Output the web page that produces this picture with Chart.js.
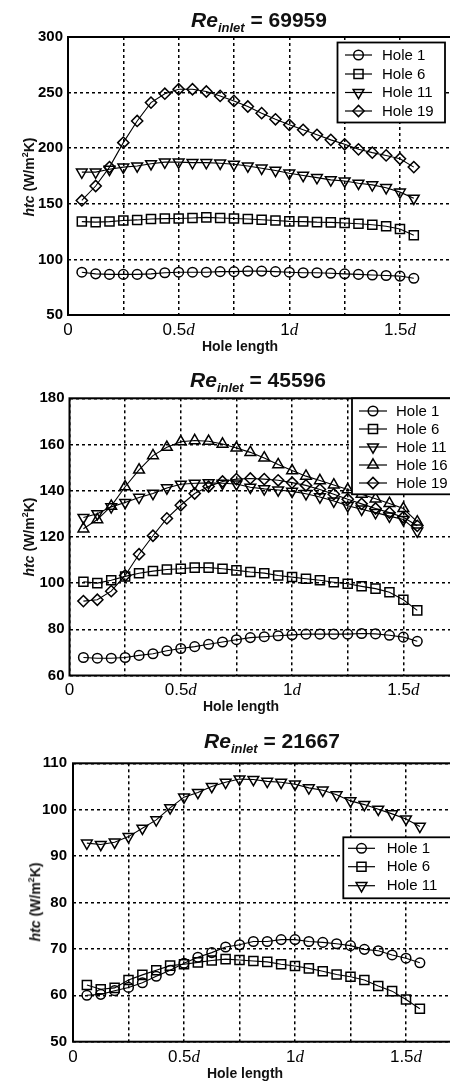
<!DOCTYPE html>
<html><head><meta charset="utf-8">
<script src="https://cdn.jsdelivr.net/npm/chart.js@4.4.1/dist/chart.umd.min.js"></script>
<style>
html,body{margin:0;padding:0;background:#fff;overflow:hidden;}
body{width:450px;height:1084px;position:relative;font-family:"Liberation Sans",Arial,sans-serif;color:#111;}
canvas{position:absolute;left:0;}
.ttl{position:absolute;width:240px;text-align:center;font-weight:bold;font-size:21px;line-height:21px;white-space:nowrap;z-index:2;}
.ttl .sub{position:relative;top:5px;font-size:13px;font-style:italic;}
.yl{position:absolute;transform:translate(-50%,-50%) rotate(-90deg);font-weight:bold;font-size:14px;line-height:14px;white-space:nowrap;z-index:2;}
.xl{position:absolute;transform:translate(-50%,-50%);font-weight:bold;font-size:14px;line-height:14px;white-space:nowrap;z-index:2;}
</style></head>
<body>
<canvas id="c1" width="470" height="360" style="top:0;width:470px;height:360px"></canvas>
<canvas id="c2" width="470" height="360" style="top:360px;width:470px;height:360px"></canvas>
<canvas id="c3" width="470" height="364" style="top:720px;width:470px;height:364px"></canvas>

<div class="ttl" style="left:139px;top:9px"><i>Re</i><span class="sub">inlet</span> = 69959</div>
<div class="ttl" style="left:138px;top:369px"><i>Re</i><span class="sub">inlet</span> = 45596</div>
<div class="ttl" style="left:152px;top:730px"><i>Re</i><span class="sub">inlet</span> = 21667</div>

<div class="yl" style="left:27px;top:177px"><i>htc</i> (W/m<sup style="font-size:9px">2</sup>K)</div>
<div class="yl" style="left:27px;top:537px"><i>htc</i> (W/m<sup style="font-size:9px">2</sup>K)</div>
<div class="yl" style="left:33px;top:902px"><i>htc</i> (W/m<sup style="font-size:9px">2</sup>K)</div>

<div class="xl" style="left:240px;top:346px">Hole length</div>
<div class="xl" style="left:241px;top:706px">Hole length</div>
<div class="xl" style="left:245px;top:1073px">Hole length</div>

<script>
// ---- data ----
const holeLength = [0.0625,0.125,0.1875,0.25,0.3125,0.375,0.4375,0.5,0.5625,0.625,0.6875,0.75,0.8125,0.875,0.9375,1.0,1.0625,1.125,1.1875,1.25,1.3125,1.375,1.4375,1.5,1.5625];

const xTickValues = [0, 0.5, 1, 1.5];
const xTickLabels = ['0', '0.5d', '1d', '1.5d'];

// Re_inlet = 69959
const re69959_hole1  = [88.5,87,86.5,86.5,86.5,87,88,88.5,88.5,88.5,89,89,89.5,89.5,89,88.5,88,88,87.5,87,86.5,86,85.5,85,83];
const re69959_hole6  = [134,133.5,134,135,135.5,136.3,136.7,136.8,137.2,137.8,137.2,136.8,136.3,135.7,135,134.2,134,133.5,133.3,132.7,132,131.2,129.8,127.4,121.7];
const re69959_hole11 = [178.5,178.5,181,183,184,186,187.5,187.5,187,187,186.5,185.5,184,182,180,177.5,175.5,173.5,171.5,170.5,168.5,167,164.5,160.5,155];
const re69959_hole19 = [153,166,183,205,224.5,241,249,253,253,251,247,242.5,237.5,231.5,226,221,216.5,212,207.5,203.5,199,196,193.5,190.5,183];

// Re_inlet = 45596
const re45596_hole1  = [67.8,67.5,67.5,67.8,68.7,69.4,70.7,71.7,72.5,73.5,74.5,75.5,76.4,76.8,77.2,77.6,77.9,77.9,77.9,77.9,78.2,78,77.4,76.6,74.8];
const re45596_hole6  = [100.6,100,101.2,102.9,104.3,105.2,105.9,106.2,106.7,106.7,106.2,105.5,104.8,104.3,103.3,102.6,101.9,101.2,100.4,99.7,98.6,97.6,96,92.8,88.2];
const re45596_hole11 = [128.4,130,133,134.9,137.1,138.8,141.2,142.8,143.2,143.4,143.2,142.9,141.5,140.8,140.3,139.7,138.7,137.3,135.5,133.5,132,130.5,129,127.5,122.5];
const re45596_hole16 = [123.5,127.5,133.3,141.7,149,155.2,158.8,161.2,161.7,161.4,160.2,158.5,156.6,154.2,151.3,148.7,146.3,144.4,142.5,140.5,138.5,136.5,134.5,132.3,126.5];
const re45596_hole19 = [92.2,92.8,96.5,103.3,112.5,120.5,128,133.7,138.8,141.8,144,145,145.3,145,144.5,143.5,142.3,140.5,138.5,136.3,134.3,132.3,130.5,128.5,124.8];

// Re_inlet = 21667
const re21667_hole1  = [60,60.2,61,61.7,62.7,64.1,65.4,66.9,68.2,69.2,70.4,70.9,71.6,71.6,72,72,71.6,71.4,71.1,70.7,69.9,69.6,68.7,68,67];
const re21667_hole6  = [62.2,61.3,61.6,63.3,64.4,65.4,66.4,66.7,67.1,67.5,67.8,67.6,67.4,67.2,66.7,66.3,65.8,65.2,64.5,64,63.3,62,60.9,59.1,57.1];
const re21667_hole11 = [92.8,92.5,93,94.2,96,97.8,100.4,102.7,103.7,105,105.9,106.6,106.5,106.1,105.9,105.5,104.7,104.2,103.2,101.9,101.1,100.1,99.1,98,96.4];

// ---- marker styles ----
const MK = {
  'Hole 1':  {style:'circle',   r:4.8, rot:0},
  'Hole 6':  {style:'rect',     r:6.4, rot:0},
  'Hole 11': {style:'triangle', r:6.2, rot:180},
  'Hole 16': {style:'triangle', r:6.2, rot:0},
  'Hole 19': {style:'rectRot',  r:5.6, rot:0}
};

const FONT = '"Liberation Sans", Arial, sans-serif';

function ds(label, values){
  const m = MK[label];
  return {
    label,
    data: holeLength.map((x,i)=>({x:x, y:values[i]})),
    borderColor:'#000', borderWidth:1.1, fill:false, tension:0,
    pointStyle:m.style, pointRadius:m.r, pointRotation:m.rot,
    pointBorderColor:'#000', pointBackgroundColor:'rgba(0,0,0,0)', pointBorderWidth:1.5,
    pointHoverRadius:m.r
  };
}

function drawMarker(ctx, m, x, y){
  const r = m.r;
  ctx.beginPath();
  if (m.style==='circle'){ ctx.arc(x,y,r,0,Math.PI*2); }
  else if (m.style==='rect'){ const s=Math.SQRT1_2*r; ctx.rect(x-s,y-s,2*s,2*s); }
  else if (m.style==='rectRot'){ ctx.moveTo(x-r,y); ctx.lineTo(x,y-r); ctx.lineTo(x+r,y); ctx.lineTo(x,y+r); ctx.closePath(); }
  else if (m.style==='triangle'){
    let a = m.rot*Math.PI/180;
    ctx.moveTo(x+Math.sin(a)*r, y-Math.cos(a)*r);
    a += 2*Math.PI/3; ctx.lineTo(x+Math.sin(a)*r, y-Math.cos(a)*r);
    a += 2*Math.PI/3; ctx.lineTo(x+Math.sin(a)*r, y-Math.cos(a)*r);
    ctx.closePath();
  }
  ctx.stroke();
}

const framePlugin = {
  id:'frameLegend',
  afterDraw(chart, args, o){
    const ctx = chart.ctx, a = chart.chartArea, xs = chart.scales.x;
    ctx.save();
    // frame
    ctx.strokeStyle='#000'; ctx.lineWidth=2; ctx.setLineDash([]);
    ctx.strokeRect(a.left, a.top, a.right-a.left, a.bottom-a.top);
    // x tick labels (number upright, d italic)
    ctx.fillStyle='#000'; ctx.textBaseline='alphabetic';
    xTickValues.forEach((v,i)=>{
      const lab = xTickLabels[i];
      const px = xs.getPixelForValue(v);
      const hasD = lab.endsWith('d');
      const num = hasD ? lab.slice(0,-1) : lab;
      ctx.font = '17px ' + FONT;
      const wn = ctx.measureText(num).width;
      ctx.font = 'italic 17px "Liberation Serif", "DejaVu Serif", serif';
      const wd = hasD ? ctx.measureText('d').width : 0;
      const x0 = px - (wn+wd)/2;
      ctx.font = '17px ' + FONT; ctx.textAlign='left';
      ctx.fillText(num, x0, a.bottom + o.xLabelDy);
      if (hasD){ ctx.font = 'italic 17px "Liberation Serif", "DejaVu Serif", serif'; ctx.fillText('d', x0+wn, a.bottom + o.xLabelDy); }
    });
    // legend
    const L = o.legend;
    ctx.fillStyle='#fff';
    ctx.fillRect(L.left, L.top, L.right-L.left, L.bottom-L.top);
    ctx.strokeStyle='#000'; ctx.lineWidth=1.8;
    ctx.strokeRect(L.left, L.top, L.right-L.left, L.bottom-L.top);
    chart.data.datasets.forEach((d,i)=>{
      const y = L.rows[i];
      ctx.strokeStyle='#000'; ctx.lineWidth=1.2;
      ctx.beginPath(); ctx.moveTo(L.lineX0, y); ctx.lineTo(L.lineX1, y); ctx.stroke();
      ctx.lineWidth=1.5;
      drawMarker(ctx, MK[d.label], (L.lineX0+L.lineX1)/2, y);
      ctx.fillStyle='#000'; ctx.font='15px ' + FONT; ctx.textAlign='left'; ctx.textBaseline='middle';
      ctx.fillText(d.label, L.textX, y+0.5);
    });
    ctx.restore();
  }
};

function makeChart(id, datasets, cfg){
  return new Chart(document.getElementById(id), {
    type:'line',
    data:{datasets},
    plugins:[framePlugin],
    options:{
      responsive:false, animation:false, devicePixelRatio:1,
      layout:{padding:{top:cfg.top, right:cfg.right, left:0, bottom:0}},
      plugins:{legend:{display:false}, tooltip:{enabled:false}, title:{display:false},
        frameLegend:{legend:cfg.legend, xLabelDy:cfg.xLabelDy}},
      scales:{
        x:{type:'linear', min:0, max:1.75,
           afterFit(s){ s.height = cfg.xh; },
           ticks:{display:false, stepSize:0.25},
           grid:{color:'#000', lineWidth:1.5, drawTicks:false},
           border:{display:false, dash:[3,3]}},
        y:{type:'linear', min:cfg.ymin, max:cfg.ymax,
           afterFit(s){ s.width = cfg.yw; },
           ticks:{stepSize:cfg.step, padding:cfg.tickPad, color:'#000', font:{family:FONT, size:15, weight:'bold'}},
           grid:{color:'#000', lineWidth:1.5, drawTicks:false},
           border:{display:false, dash:[3,3]}}
      }
    }
  });
}

makeChart('c1', [
  ds('Hole 1', re69959_hole1), ds('Hole 6', re69959_hole6),
  ds('Hole 11', re69959_hole11), ds('Hole 19', re69959_hole19)
], {top:37, right:14.7, xh:45, yw:68, ymin:50, ymax:300, step:50, tickPad:5, xLabelDy:20,
    legend:{left:337.5, top:42.5, right:445, bottom:122.5, rows:[55,74,92.5,111], lineX0:345, lineX1:372, textX:382}});

makeChart('c2', [
  ds('Hole 1', re45596_hole1), ds('Hole 6', re45596_hole6),
  ds('Hole 11', re45596_hole11), ds('Hole 16', re45596_hole16), ds('Hole 19', re45596_hole19)
], {top:38.3, right:11, xh:44.5, yw:69.5, ymin:60, ymax:180, step:20, tickPad:5, xLabelDy:19.5,
    legend:{left:352, top:38.3, right:490, bottom:134.3, rows:[51,69,87,105,123], lineX0:359, lineX1:387, textX:396}});

makeChart('c3', [
  ds('Hole 1', re21667_hole1), ds('Hole 6', re21667_hole6), ds('Hole 11', re21667_hole11)
], {top:43.3, right:8.5, xh:42.3, yw:73, ymin:50, ymax:110, step:10, tickPad:6, xLabelDy:20,
    legend:{left:343.3, top:117.3, right:490, bottom:178.3, rows:[128.3,146.7,165.7], lineX0:348, lineX1:375, textX:386.7}});
</script>
</body></html>
